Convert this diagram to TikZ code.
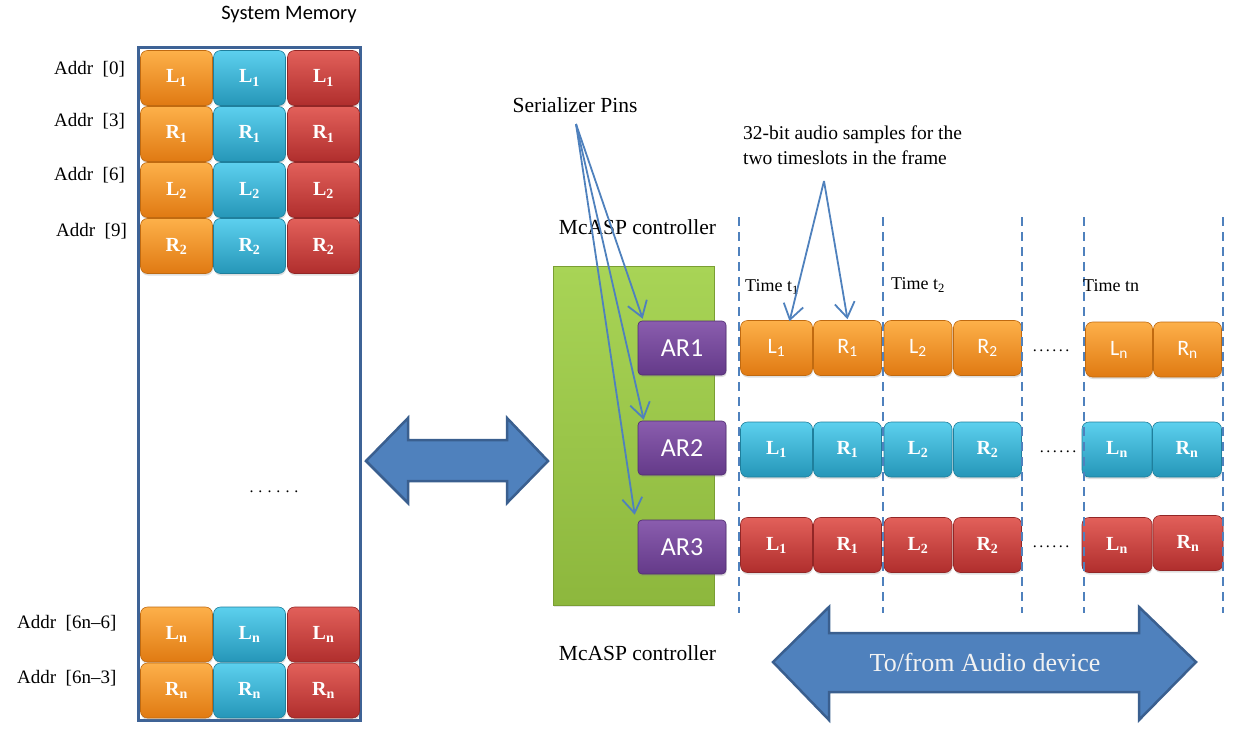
\documentclass[tikz,border=0pt]{standalone}
\usepackage{fontspec}
\setmainfont{Liberation Serif}
\newfontfamily\sanf{Carlito}
\usetikzlibrary{shadows,arrows.meta}
\definecolor{orT}{HTML}{FDB04A}\definecolor{orM}{HTML}{F58D22}\definecolor{orB}{HTML}{E07A12}\definecolor{orD}{HTML}{C06A10}
\definecolor{cyT}{HTML}{5CD0EE}\definecolor{cyM}{HTML}{33B2D4}\definecolor{cyB}{HTML}{2596B8}\definecolor{cyD}{HTML}{1F7F9C}
\definecolor{rdT}{HTML}{E2605A}\definecolor{rdM}{HTML}{D03B3A}\definecolor{rdB}{HTML}{B02E2D}\definecolor{rdD}{HTML}{922626}
\definecolor{puT}{HTML}{8A5DAE}\definecolor{puM}{HTML}{7A4E9E}\definecolor{puB}{HTML}{643A89}\definecolor{puD}{HTML}{4F2C70}
\definecolor{grT}{HTML}{A8D456}\definecolor{grB}{HTML}{8DB73D}\definecolor{grD}{HTML}{7A9E33}
\definecolor{arrC}{HTML}{4F81BD}\definecolor{arrD}{HTML}{3A5F8F}\definecolor{frameC}{HTML}{3E6396}
\definecolor{audT}{HTML}{F2F2F2}
\newcommand\sixdots[1]{.\kern#1.\kern#1.\kern#1.\kern#1.\kern#1.}
\begin{document}
\begin{tikzpicture}[x=1pt,y=-1pt,
  cellb/.style={rounded corners=7pt, inner sep=0pt, minimum height=55pt, text=white,
    font=\fontsize{20}{20}\selectfont\bfseries, line width=0.6pt,
    drop shadow={opacity=0.25,shadow xshift=0.5pt,shadow yshift=-2pt}},
  orc/.style={cellb, top color=orT, middle color=orM, bottom color=orB, draw=orD},
  cyc/.style={cellb, top color=cyT, middle color=cyM, bottom color=cyB, draw=cyD},
  rdc/.style={cellb, top color=rdT, middle color=rdM, bottom color=rdB, draw=rdD},
  sanscell/.style={font=\sanf\fontsize{22}{22}\selectfont},
  arbox/.style={rounded corners=4pt, inner sep=0pt, minimum width=88pt, minimum height=54pt,
    top color=puT, middle color=puM, bottom color=puB, draw=puD, line width=0.6pt, text=white,
    font=\sanf\fontsize{26}{26}\selectfont,
    drop shadow={opacity=0.25,shadow xshift=0.5pt,shadow yshift=-2pt}},
  lbl/.style={inner sep=0pt, font=\fontsize{21.5}{24}\selectfont},
  addr/.style={inner sep=0pt, anchor=west, font=\fontsize{19}{22}\selectfont},
  tlbl/.style={inner sep=0pt, anchor=west, font=\fontsize{18}{20}\selectfont},
  dots/.style={inner sep=0pt, font=\fontsize{16}{16}\selectfont},
  guide/.style={draw=arrC, line width=1.8pt, dash pattern=on 9pt off 6pt},
  conn/.style={draw=arrC, line width=1.8pt, -{Straight Barb[length=15pt,width=20pt]}},
  bigarrow/.style={fill=arrC, draw=arrD, line width=2.5pt, line join=miter}
]
\useasboundingbox (0,0) rectangle (1241,732);

% System memory
\node[inner sep=0pt, font=\sanf\fontsize{20.5}{22}\selectfont] (smem) at (289,14) {System Memory};
\node[draw=frameC, line width=3pt, minimum width=222pt, minimum height=673pt, inner sep=0pt,
  fill=white, drop shadow={opacity=0.2,shadow xshift=1pt,shadow yshift=-2pt}] (mem) at (249,383.5) {};

\foreach \yy/\ch/\sb/\nm in {78/L/1/a, 134/R/1/b, 190/L/2/c, 246/R/2/d, 634.5/L/n/e, 690.5/R/n/f}{
  \node[orc, minimum width=72pt] (mo\nm) at (176.5,\yy) {\ch\textsubscript{\sb}};
  \node[cyc, minimum width=72pt] (mc\nm) at (249.5,\yy) {\ch\textsubscript{\sb}};
  \node[rdc, minimum width=72pt] (mr\nm) at (323.5,\yy) {\ch\textsubscript{\sb}};
}
\node[addr] (ad0) at (54,69) {Addr~~[0]};
\node[addr] (ad3) at (54,121) {Addr~~[3]};
\node[addr] (ad6) at (54,175) {Addr~~[6]};
\node[addr] (ad9) at (56,231) {Addr~~[9]};
\node[addr] (adn6) at (17,623) {Addr~~[6n–6]};
\node[addr] (adn3) at (17,678) {Addr~~[6n–3]};
\node[dots] (mdots) at (274,492) {\sixdots{5pt}};

% left double arrow
\path[bigarrow] (366,461) -- (408,418) -- (408,440) -- (507,440) -- (507,418) -- (548,461)
  -- (507,503) -- (507,481) -- (408,481) -- (408,503) -- cycle;

% McASP controller
\node[lbl] (sp) at (575,105) {Serializer Pins};
\node[lbl] (mc1) at (637.5,227) {McASP controller};
\node[lbl] (mc2) at (637.5,653) {McASP controller};
\node[inner sep=0pt, minimum width=161pt, minimum height=339pt, top color=grT, bottom color=grB,
  draw=grD, line width=0.6pt, drop shadow={opacity=0.2,shadow xshift=1pt,shadow yshift=-2pt}] (ctl) at (633.5,435.5) {};
\node[arbox] (ar1) at (682,348) {AR1};
\node[arbox] (ar2) at (682,448) {AR2};
\node[arbox] (ar3) at (682,547) {AR3};

% timeslot rows
\node[orc, sanscell, minimum width=72pt] (l1a) at (776.5,348) {L\textsubscript{1}};
\node[orc, sanscell, minimum width=68pt] (r1a) at (847.5,348) {R\textsubscript{1}};
\node[orc, sanscell, minimum width=68pt] (l2a) at (918,348) {L\textsubscript{2}};
\node[orc, sanscell, minimum width=68pt] (r2a) at (987.5,348) {R\textsubscript{2}};
\node[orc, sanscell, minimum width=67pt] (lna) at (1119,349.5) {L\textsubscript{n}};
\node[orc, sanscell, minimum width=68pt] (rna) at (1187.5,349.5) {R\textsubscript{n}};
\node[dots] (d1) at (1051,351) {\sixdots{2.5pt}};

\node[cyc, minimum width=72pt] (l1b) at (776.5,449.5) {L\textsubscript{1}};
\node[cyc, minimum width=68pt] (r1b) at (847.5,449.5) {R\textsubscript{1}};
\node[cyc, minimum width=68pt] (l2b) at (918,449.5) {L\textsubscript{2}};
\node[cyc, minimum width=68pt] (r2b) at (987.5,449.5) {R\textsubscript{2}};
\node[cyc, minimum width=70pt] (lnb) at (1117,449.5) {L\textsubscript{n}};
\node[cyc, minimum width=69pt] (rnb) at (1187,449.5) {R\textsubscript{n}};
\node[dots] (d2) at (1058,452) {\sixdots{2.5pt}};

\node[rdc, minimum width=72pt] (l1c) at (776.5,545) {L\textsubscript{1}};
\node[rdc, minimum width=68pt] (r1c) at (847.5,545) {R\textsubscript{1}};
\node[rdc, minimum width=68pt] (l2c) at (918,545) {L\textsubscript{2}};
\node[rdc, minimum width=68pt] (r2c) at (987.5,545) {R\textsubscript{2}};
\node[rdc, minimum width=70pt] (lnc) at (1117,545) {L\textsubscript{n}};
\node[rdc, minimum width=70pt] (rnc) at (1188,543) {R\textsubscript{n}};
\node[dots] (d3) at (1051,547) {\sixdots{2.5pt}};

% guides
\foreach \xx in {739,883,1022,1084,1223}{
  \draw[guide] (\xx,217) -- (\xx,613);
}

\node[tlbl] (t1) at (745,287) {Time t\textsubscript{1}};
\node[tlbl] (t2) at (891,285) {Time t\textsubscript{2}};
\node[tlbl] (tn) at (1083,286) {Time tn};
\node[inner sep=0pt, anchor=north west, align=left, font=\fontsize{19.5}{25}\selectfont] (bits) at (743,126)
  {32-bit audio samples for the\\two timeslots in the frame};

% bottom arrow
\path[bigarrow] (773,662) -- (829,607) -- (829,633) -- (1139,633) -- (1139,607) -- (1196,662)
  -- (1139,720) -- (1139,692) -- (829,692) -- (829,720) -- cycle;
\node[inner sep=0pt, text=audT, font=\fontsize{26}{28}\selectfont] (audio) at (985,662) {To/from Audio device};

% connectors
\coordinate (spo) at (576,124);
\coordinate (bsrc) at (824,181);
\draw[conn] (spo) -- ([xshift=5pt,yshift=2pt]ar1.north west);
\draw[conn] (spo) -- ([xshift=6pt,yshift=1pt]ar2.north west);
\draw[conn] (spo) -- ([xshift=-3pt,yshift=5pt]ar3.north west);
\draw[conn] (bsrc) -- ([xshift=13pt,yshift=-1pt]l1a.north);
\draw[conn] (bsrc) -- ([yshift=1pt]r1a.north);
\end{tikzpicture}
\end{document}
